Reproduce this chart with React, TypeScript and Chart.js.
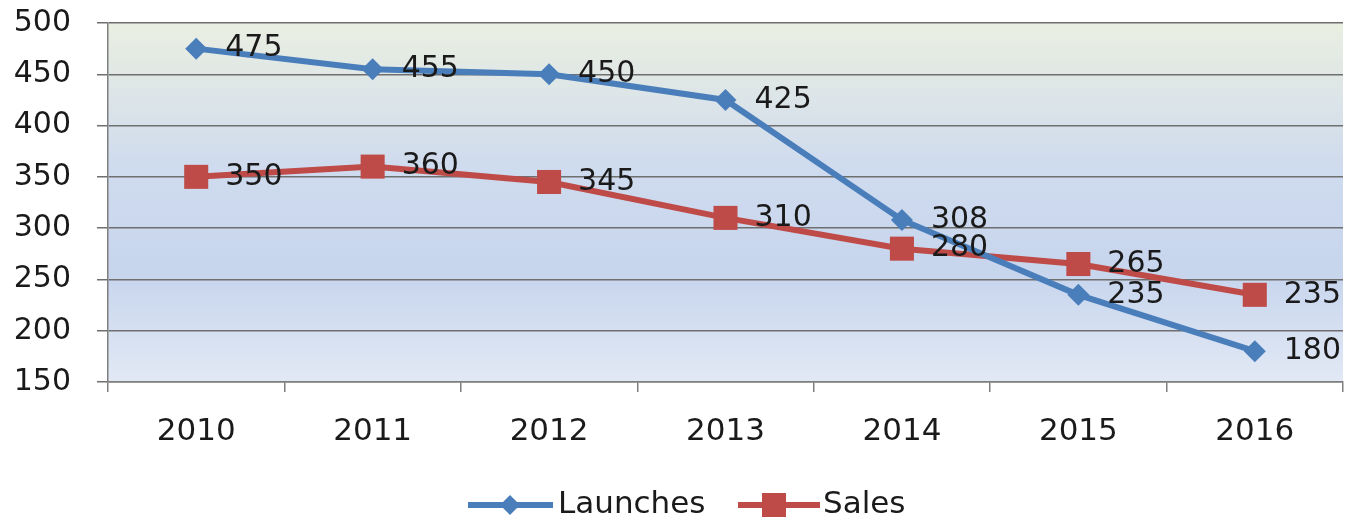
import React, { useEffect, useRef } from "react";
import { Chart, registerables } from "chart.js";

Chart.register(...registerables);

const years = ["2010", "2011", "2012", "2013", "2014", "2015", "2016"];
const launches = [475, 455, 450, 425, 308, 235, 180];
const sales = [350, 360, 345, 310, 280, 265, 235];
const yTicks = [150, 200, 250, 300, 350, 400, 450, 500];

const BLUE = "#4a7ebb";
const RED = "#be4b48";
const FONT = "'DejaVu Sans', sans-serif";

const bgPlugin = {
  id: "bgGradient",
  beforeDraw(chart: any) {
    const { ctx, chartArea } = chart;
    if (!chartArea) return;
    const g = ctx.createLinearGradient(0, chartArea.top, 0, chartArea.bottom);
    g.addColorStop(0, "rgb(234,239,225)");
    g.addColorStop(0.4, "rgb(207,219,238)");
    g.addColorStop(0.7, "rgb(199,213,237)");
    g.addColorStop(1, "rgb(226,233,245)");
    ctx.save();
    ctx.fillStyle = g;
    ctx.fillRect(chartArea.left, chartArea.top, chartArea.right - chartArea.left, chartArea.bottom - chartArea.top);
    ctx.restore();
  },
};

const labelPlugin = {
  id: "dataLabels",
  afterDatasetsDraw(chart: any) {
    const { ctx } = chart;
    ctx.save();
    ctx.font = `30px ${FONT}`;
    ctx.fillStyle = "#1a1a1a";
    ctx.textAlign = "left";
    ctx.textBaseline = "middle";
    chart.data.datasets.forEach((ds: any, di: number) => {
      const meta = chart.getDatasetMeta(di);
      meta.data.forEach((pt: any, i: number) => {
        ctx.fillText(String(ds.data[i]), pt.x + 29, pt.y);
      });
    });
    ctx.restore();
  },
};

const legendPlugin = {
  id: "customLegend",
  afterDraw(chart: any) {
    const { ctx } = chart;
    const y = 505;
    ctx.save();
    // Launches
    ctx.strokeStyle = BLUE;
    ctx.lineWidth = 6;
    ctx.beginPath();
    ctx.moveTo(468, y);
    ctx.lineTo(553, y);
    ctx.stroke();
    ctx.fillStyle = BLUE;
    ctx.beginPath();
    ctx.moveTo(510, y - 10);
    ctx.lineTo(520, y);
    ctx.lineTo(510, y + 10);
    ctx.lineTo(500, y);
    ctx.closePath();
    ctx.fill();
    // Sales
    ctx.strokeStyle = RED;
    ctx.beginPath();
    ctx.moveTo(738, y);
    ctx.lineTo(820, y);
    ctx.stroke();
    ctx.fillStyle = RED;
    ctx.fillRect(774 - 12, y - 12, 24, 24);
    ctx.font = `31px ${FONT}`;
    ctx.fillStyle = "#1a1a1a";
    ctx.textAlign = "left";
    ctx.textBaseline = "middle";
    ctx.fillText("Launches", 558, y);
    ctx.fillText("Sales", 823, y);
    ctx.restore();
  },
};

export default function App() {
  const ref = useRef<HTMLCanvasElement | null>(null);
  useEffect(() => {
    document.body.style.margin = "0";
    if (!ref.current) return;
    const chart = new Chart(ref.current, {
      type: "line",
      data: {
        labels: years,
        datasets: [
          {
            label: "Launches",
            data: launches,
            borderColor: BLUE,
            backgroundColor: BLUE,
            borderWidth: 6,
            pointStyle: "rectRot",
            pointRadius: 11,
            pointBorderWidth: 0,
            tension: 0,
          },
          {
            label: "Sales",
            data: sales,
            borderColor: RED,
            backgroundColor: RED,
            borderWidth: 6,
            pointStyle: "rect",
            pointRadius: 17,
            pointBorderWidth: 0,
            tension: 0,
          },
        ],
      },
      options: {
        responsive: false,
        animation: false,
        layout: { padding: { left: 8, right: 19, top: 23, bottom: 62 } },
        plugins: {
          legend: { display: false },
          tooltip: { enabled: false },
        },
        scales: {
          x: {
            offset: true,
            afterFit(scale: any) {
              scale.height = 80;
              scale.paddingLeft = 0;
              scale.paddingRight = 0;
            },
            grid: {
              offset: true,
              drawOnChartArea: false,
              drawTicks: true,
              tickLength: 10,
              color: "#7f7f7f",
              lineWidth: 1.5,
            },
            border: { color: "#7f7f7f", width: 1.5 },
            ticks: {
              padding: 21,
              color: "#1a1a1a",
              font: { family: FONT, size: 31 },
              maxRotation: 0,
            },
          },
          y: {
            min: 150,
            max: 500,
            afterFit(scale: any) {
              scale.width = 100;
              scale.paddingTop = 0;
              scale.paddingBottom = 0;
            },
            afterBuildTicks(scale: any) {
              scale.ticks = yTicks.map((v) => ({ value: v }));
            },
            grid: {
              color: "#6f6f6f",
              lineWidth: 1.5,
              tickLength: 11,
            },
            border: { color: "#7f7f7f", width: 1.5 },
            ticks: {
              padding: 26,
              color: "#1a1a1a",
              font: { family: FONT, size: 30 },
            },
          },
        },
      },
      plugins: [bgPlugin, labelPlugin, legendPlugin],
    });
    return () => chart.destroy();
  }, []);
  return (
    <div style={{ width: 1362, height: 524 }}>
      <canvas ref={ref} width={1362} height={524} style={{ display: "block" }} />
    </div>
  );
}
